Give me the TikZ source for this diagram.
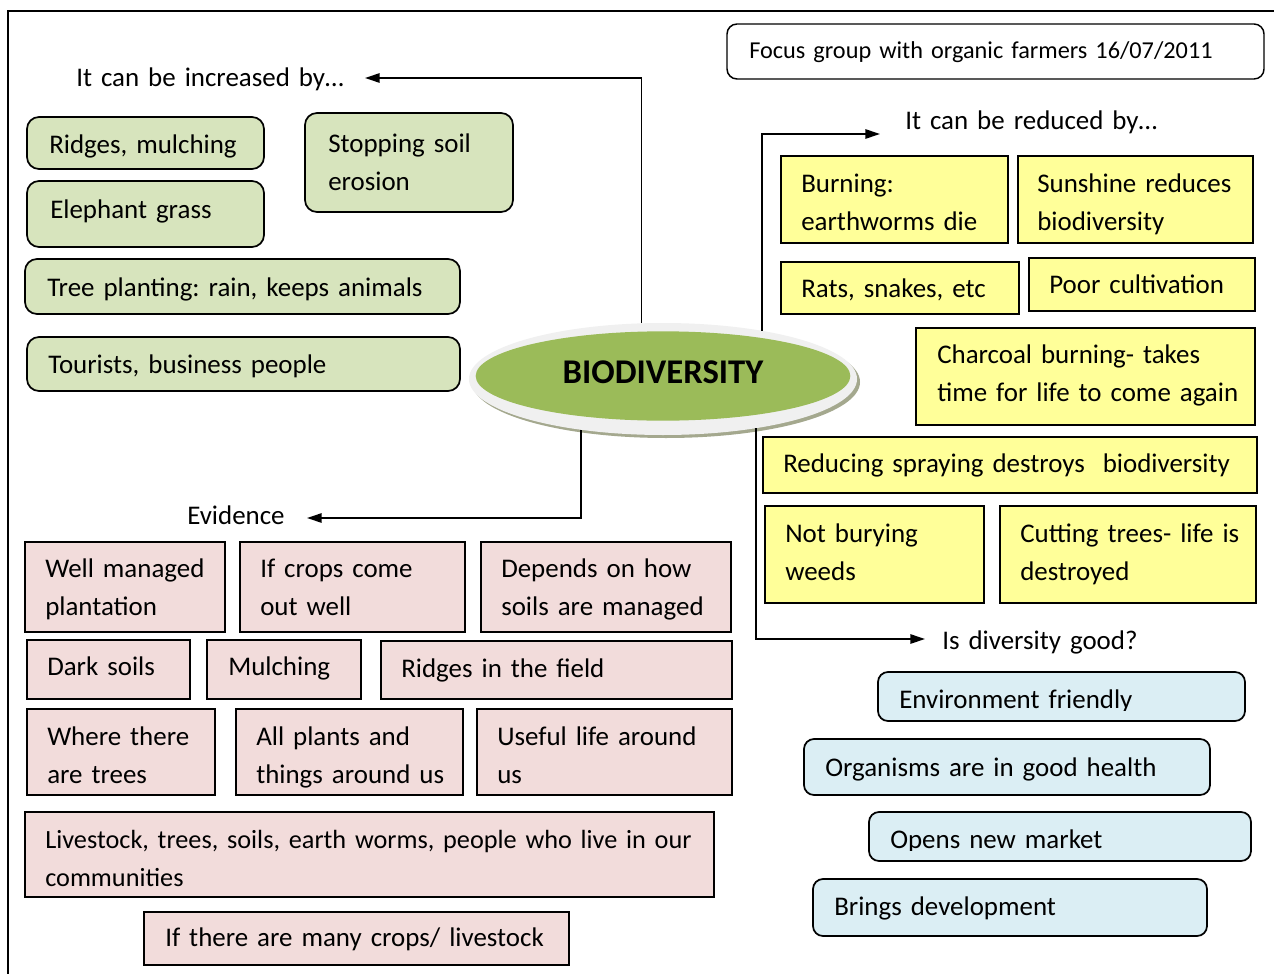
\documentclass[tikz,border=0pt]{standalone}
\usepackage{fontspec}
\setmainfont{Carlito}
\usetikzlibrary{arrows.meta,shapes.geometric}
\definecolor{gfill}{HTML}{D7E4BD}
\definecolor{yfill}{HTML}{FFFF99}
\definecolor{pfill}{HTML}{F2DCDB}
\definecolor{blfill}{HTML}{DBEEF4}
\definecolor{biogreen}{HTML}{9BBB59}
\definecolor{rimgray}{HTML}{F0F0F0}
\definecolor{shadowgray}{HTML}{A4A88E}
\frenchspacing
\newcommand\bx[6]{\node[#1, minimum width={(#5-#3)*0.75pt}, minimum height={(#6-#4)*0.75pt}] (#2) at ({(#3+#5)/2},{(#4+#6)/2}) {};}
\newcommand\tx[4]{\node[txt] (#1) at (#2,#3) {#4};}
\begin{document}
\begin{tikzpicture}[x=0.75pt,y=-0.75pt,
  boxbase/.style={draw=black, line width=1.3pt, inner sep=0pt, rectangle},
  gbox/.style={boxbase, fill=gfill, rounded corners=9pt},
  ybox/.style={boxbase, fill=yfill},
  pbox/.style={boxbase, fill=pfill},
  blbox/.style={boxbase, fill=blfill, rounded corners=7.5pt},
  fbox/.style={boxbase, fill=white, rounded corners=7.5pt, line width=1.1pt},
  txt/.style={inner sep=0pt, anchor=base west, align=left, text width=20cm, font=\frenchspacing\fontsize{20.2pt}{28.5pt}\selectfont},
  arr/.style={line width=1.3pt, -{Triangle[length=11pt,width=7pt]}},
  ell/.style={ellipse, inner sep=0pt},
  ]
\fill[white] (0,0) rectangle (1274,974);
\useasboundingbox (0,0) rectangle (1274,974);
% frame
\draw[line width=1.2pt] (8,974) -- (8,11) -- (1274,11);

% title
\bx{fbox}{f}{727}{24}{1264}{79}
\node[txt, font=\frenchspacing\fontsize{18.2pt}{24pt}\selectfont] (ft) at (749,59) {Focus group with organic farmers 16/07/2011};

% central ellipse
\node[ell, fill=shadowgray, minimum width=291pt, minimum height=84pt] (bioshadow) at (666,382) {};
\node[ell, fill=rimgray, minimum width=291pt, minimum height=84pt] (bio) at (663,379) {};
\node[ell, fill=biogreen, minimum width=281pt, minimum height=67pt,
      font=\bfseries\fontsize{26pt}{30pt}\selectfont, text depth=6pt] (biotext) at (663,376) {BIODIVERSITY};

% headings
\tx{h1}{76}{87}{It can be increased by…}
\tx{h2}{905}{129}{It can be reduced by…}
\tx{h3}{187}{524}{Evidence}
\begin{scope}
\clip (900,600) rectangle (1274,653);
\tx{h4}{942}{649}{Is diversity good?}
\end{scope}

% connectors
\coordinate (incTip) at (365,78);
\coordinate (redTip) at (880,134);
\coordinate (eviTip) at (307,518);
\coordinate (goodTip) at (925,639);
\draw[arr] (bio.111.6) |- (incTip);
\draw[arr] (bio.26.6) |- (redTip);
\draw[arr] (bio.212.1) |- (eviTip);
\draw[arr] (bio.332.2) |- (goodTip);

% green boxes
\bx{gbox}{g1}{27}{117}{264}{169}
\tx{g1t}{49}{153}{Ridges, mulching}
\bx{gbox}{g2}{27}{181}{264}{247}
\tx{g2t}{50}{218}{Elephant grass}
\bx{gbox}{g3}{305}{113}{513}{212}
\tx{g3t}{328}{152}{Stopping soil\\erosion}
\bx{gbox}{g4}{25}{259}{460}{314}
\tx{g4t}{47}{296}{Tree planting: rain, keeps animals}
\bx{gbox}{g5}{27}{337}{460}{391}
\tx{g5t}{48}{373}{Tourists, business people}

% yellow boxes
\bx{ybox}{y1}{781}{156}{1008}{243}
\tx{y1t}{801}{192}{Burning:\\earthworms die}
\bx{ybox}{y2}{1018}{156}{1253}{243}
\tx{y2t}{1037}{192}{Sunshine reduces\\biodiversity}
\bx{ybox}{y3}{781}{262}{1019}{314}
\tx{y3t}{801}{297}{Rats, snakes, etc}
\bx{ybox}{y4}{1029}{258}{1255}{311}
\tx{y4t}{1049}{293}{Poor cultivation}
\bx{ybox}{y5}{916}{328}{1255}{425}
\tx{y5t}{937}{363}{Charcoal burning- takes\\time for life to come again}
\bx{ybox}{y6}{763}{437}{1257}{493}
\tx{y6t}{783}{472}{Reducing spraying destroys\ \ biodiversity}
\bx{ybox}{y7}{765}{506}{984}{603}
\tx{y7t}{785}{542}{Not burying\\weeds}
\bx{ybox}{y8}{1000}{506}{1256}{603}
\tx{y8t}{1020}{542}{Cutting trees- life is\\destroyed}

% pink boxes
\bx{pbox}{p1}{25}{542}{225}{632}
\tx{p1t}{45}{577}{Well managed\\plantation}
\bx{pbox}{p2}{240}{542}{465}{632}
\tx{p2t}{260}{577}{If crops come\\out well}
\bx{pbox}{p3}{481}{542}{731}{632}
\tx{p3t}{501}{577}{Depends on how\\soils are managed}
\bx{pbox}{p4}{27}{640}{190}{699}
\tx{p4t}{47}{675}{Dark soils}
\bx{pbox}{p5}{207}{640}{361}{699}
\tx{p5t}{228}{675}{Mulching}
\bx{pbox}{p6}{381}{641}{732}{699}
\tx{p6t}{401}{677}{Ridges in the field}
\bx{pbox}{p7}{27}{709}{215}{795}
\tx{p7t}{47}{745}{Where there\\are trees}
\bx{pbox}{p8}{236}{709}{463}{795}
\tx{p8t}{256}{745}{All plants and\\things around us}
\bx{pbox}{p9}{477}{709}{732}{795}
\tx{p9t}{497}{745}{Useful life around\\us}
\bx{pbox}{p10}{25}{812}{714}{897}
\node[txt, font=\frenchspacing\fontsize{19.7pt}{28.5pt}\selectfont] (p10t) at (45,848) {Livestock, trees, soils, earth worms, people who live in our\\communities};
\bx{pbox}{p11}{144}{912}{569}{965}
\tx{p11t}{165}{946}{If there are many crops/ livestock}

% blue boxes
\bx{blbox}{c1}{878}{672}{1245}{721}
\begin{scope}
\clip (880,674) rectangle (1243,710);
\tx{c1t}{899}{708}{Environment friendly}
\end{scope}
\bx{blbox}{c2}{804}{739}{1210}{795}
\tx{c2t}{825}{776}{Organisms are in good health}
\bx{blbox}{c3}{869}{812}{1251}{861}
\begin{scope}
\clip (871,814) rectangle (1249,850);
\tx{c3t}{890}{848}{Opens new market}
\end{scope}
\bx{blbox}{c4}{813}{879}{1207}{936}
\tx{c4t}{834}{915}{Brings development}
\end{tikzpicture}
\end{document}
